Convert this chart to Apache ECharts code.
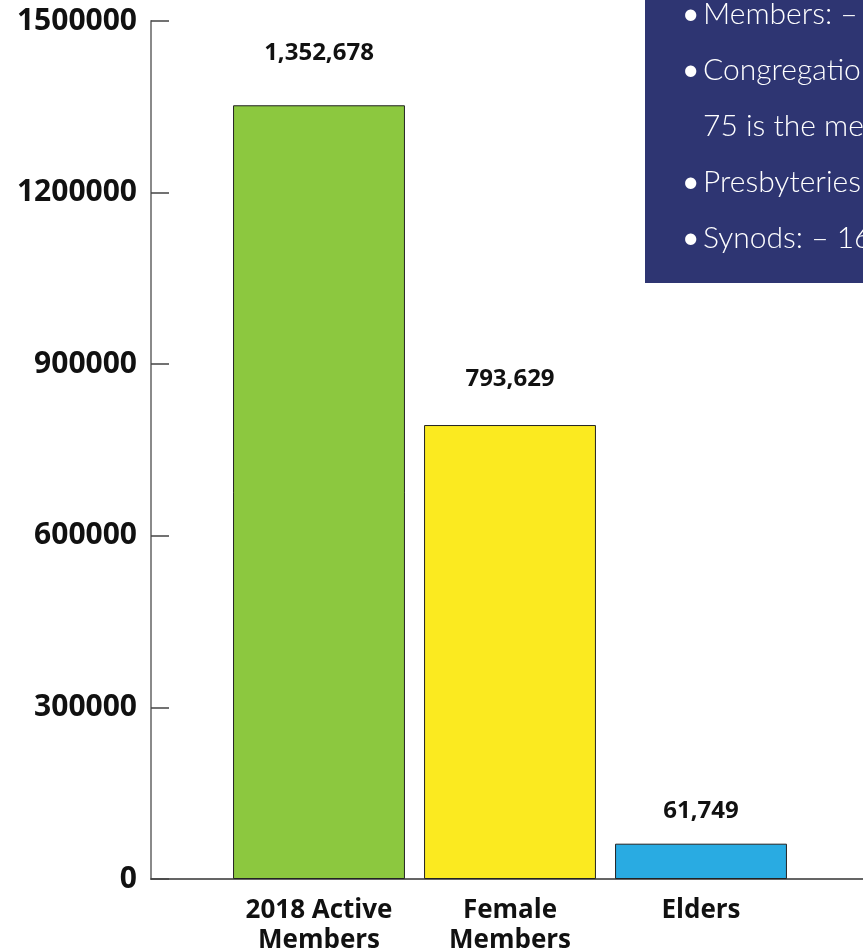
<!DOCTYPE html>
<html>
<head>
<meta charset="utf-8">
<script src="https://cdn.jsdelivr.net/npm/echarts@6/dist/echarts.min.js"></script>
<style>html,body{margin:0;padding:0;background:#fff}#c{width:863px;height:951px}</style>
</head>
<body>
<div id="c"></div>
<script>
const categories = ['2018 Active\nMembers', 'Female\nMembers', 'Elders'];
const values = [1352678, 793629, 61749];
const valueLabels = ['1,352,678', '793,629', '61,749'];
const barColors = ['#8cc83f', '#fbea20', '#29abe2'];
const yTicks = [0, 300000, 600000, 900000, 1200000, 1500000];
const noteBullets = [true, true, false, true, true];
const noteLines = ['Members: –', 'Congregations', '75 is the median', 'Presbyteries', 'Synods: – 16'];

const labelGap = [40, 34, 21];
const chart = echarts.init(document.getElementById('c'), null, {renderer: 'canvas'});
const yMax = yTicks[yTicks.length - 1];
const yStep = yTicks[1] - yTicks[0];

const noteFont = '300 30px Lato, "Noto Sans", sans-serif';
const bulletFont = 'normal 30px Lato, "Noto Sans", sans-serif';
const graphics = [{
  type: 'rect', left: 645, top: 0, shape: {width: 230, height: 283},
  style: {fill: '#2e3572'}, z: 100
}];
noteLines.forEach((t, i) => {
  if (noteBullets[i]) {
    graphics.push({
      type: 'text', x: 682, y: 14 + i * 56, z: 101,
      style: {text: '•', fill: '#ffffff', font: bulletFont, verticalAlign: 'middle', align: 'left'}
    });
  }
  graphics.push({
    type: 'text', x: 703, y: 14 + i * 56, z: 101,
    style: {text: t, fill: '#ffffff', font: noteFont, verticalAlign: 'middle', align: 'left'}
  });
});

chart.setOption({
  animation: false,
  backgroundColor: '#ffffff',
  grid: [
    {left: 151, right: 0, top: 21, bottom: 72, outerBoundsMode: 'none', containLabel: false},
    {left: 223.5, right: 66.5, top: 21, bottom: 72, outerBoundsMode: 'none', containLabel: false}
  ],
  xAxis: [
    {type: 'value', gridIndex: 0, min: 0, max: 1, axisLine: {show: true, lineStyle: {color: '#333', width: 1.5}},
     axisTick: {show: false}, axisLabel: {show: false}, splitLine: {show: false}},
    {type: 'category', gridIndex: 1, data: categories, axisLine: {show: false}, axisTick: {show: false},
     axisLabel: {show: true, color: '#111', fontFamily: '"Open Sans", sans-serif', fontWeight: 'bold', fontSize: 26, lineHeight: 30, margin: 17}}
  ],
  yAxis: [
    {type: 'value', gridIndex: 0, min: 0, max: yMax, interval: yStep,
     axisLine: {show: true, lineStyle: {color: '#8a8a8a', width: 2}},
     axisTick: {show: true, inside: true, length: 18, lineStyle: {color: '#444', width: 1.5}},
     axisLabel: {color: '#111', fontFamily: '"Open Sans", sans-serif', fontWeight: 'bold', fontSize: 30, margin: 14,
       formatter: v => String(v)},
     splitLine: {show: false}},
    {type: 'value', gridIndex: 1, min: 0, max: yMax, interval: yStep, show: false, splitLine: {show: false}}
  ],
  series: [{
    type: 'bar', xAxisIndex: 1, yAxisIndex: 1, barCategoryGap: '10%',
    data: values.map((v, i) => ({
      value: v,
      itemStyle: {color: barColors[i], borderColor: '#222', borderWidth: 1},
      label: {distance: labelGap[i]}
    })),
    label: {show: true, position: 'top', formatter: p => valueLabels[p.dataIndex],
      color: '#111', fontFamily: '"Open Sans", sans-serif', fontWeight: 'bold', fontSize: 24}
  }],
  graphic: graphics
});
</script>
</body>
</html>
